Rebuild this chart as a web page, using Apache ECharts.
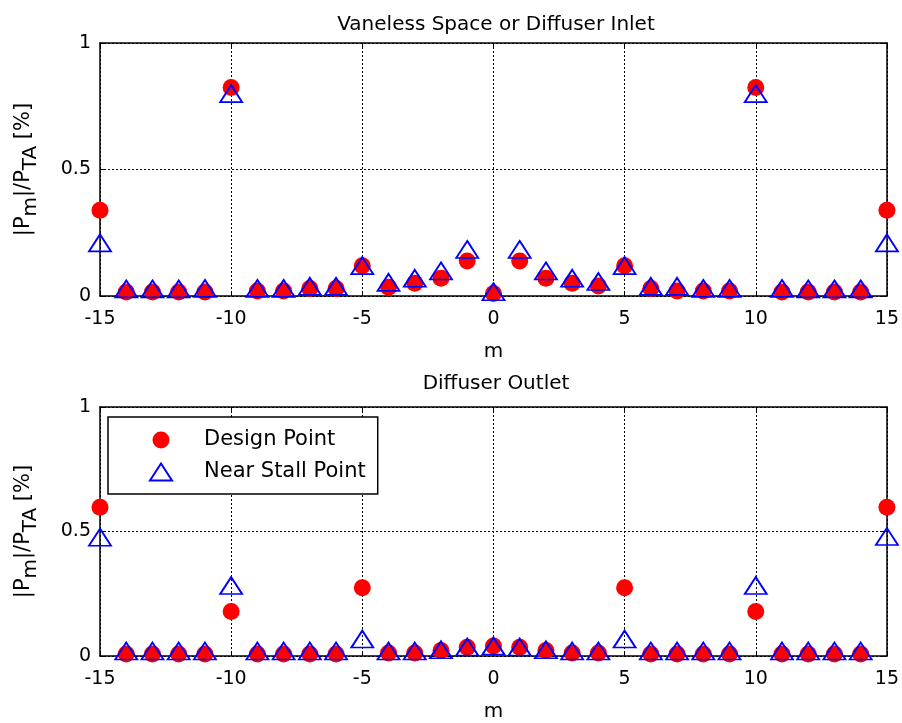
<!DOCTYPE html>
<html><head><meta charset="utf-8">
<script src="https://cdn.jsdelivr.net/npm/echarts@6/dist/echarts.min.js"></script>
<style>html,body{margin:0;padding:0;background:#fff}#c{width:902px;height:723px}</style>
</head><body><div id="c"></div>
<script>
const mValues = [-15,-14,-13,-12,-11,-10,-9,-8,-7,-6,-5,-4,-3,-2,-1,0,1,2,3,4,5,6,7,8,9,10,11,12,13,14,15];
const inletDesign = [0.339,0.016,0.016,0.016,0.016,0.824,0.02,0.02,0.03,0.03,0.12,0.035,0.05,0.07,0.138,0.01,0.138,0.07,0.05,0.04,0.12,0.03,0.02,0.02,0.02,0.824,0.016,0.016,0.016,0.016,0.339];
const inletStall = [0.21,0.028,0.028,0.028,0.03,0.80,0.03,0.03,0.038,0.038,0.12,0.054,0.07,0.099,0.184,0.017,0.184,0.099,0.07,0.057,0.12,0.038,0.038,0.03,0.03,0.80,0.03,0.028,0.028,0.028,0.21];
const outletDesign = [0.597,0.008,0.008,0.008,0.008,0.179,0.008,0.008,0.008,0.008,0.274,0.012,0.012,0.022,0.035,0.04,0.035,0.022,0.012,0.012,0.274,0.008,0.008,0.008,0.008,0.179,0.008,0.008,0.008,0.008,0.597];
const outletStall = [0.477,0.02,0.02,0.02,0.02,0.283,0.02,0.02,0.02,0.02,0.068,0.02,0.02,0.025,0.036,0.04,0.036,0.025,0.02,0.02,0.068,0.02,0.02,0.02,0.02,0.283,0.02,0.02,0.02,0.02,0.48];
const titles = ['Vaneless Space or Diffuser Inlet','Diffuser Outlet'];
const seriesNames = ['Design Point','Near Stall Point'];
const xTicks = {min:-15,max:15,interval:5};
const yTicks = {min:0,max:1,interval:0.5};

const FONT = '"DejaVu Sans", sans-serif';
const pair = (xs, ys) => xs.map((x,i)=>[x,ys[i]]);
const chart = echarts.init(document.getElementById('c'));
const grids = [{left:100,right:15,top:43,height:253},{left:100,right:15,top:407,height:254}];
const xAxes = [], yAxes = [];
grids.forEach((g,i)=>{
  xAxes.push({gridIndex:i,type:'value',min:xTicks.min,max:xTicks.max,interval:xTicks.interval,position:'bottom',
    name:'m',nameLocation:'middle',nameGap:46,nameTextStyle:{color:'#000',fontSize:20,fontFamily:FONT},
    axisLine:{onZero:false,lineStyle:{color:'#000',width:1.5}},
    axisTick:{inside:true,length:5,lineStyle:{color:'#000',width:1}},
    axisLabel:{color:'#000',fontSize:19,fontFamily:FONT,margin:14},
    splitLine:{show:true,lineStyle:{color:'#000',type:[2,2],width:1}}});
  xAxes.push({gridIndex:i,type:'value',min:xTicks.min,max:xTicks.max,interval:xTicks.interval,position:'top',
    axisLine:{onZero:false,lineStyle:{color:'#000',width:1.5}},
    axisTick:{inside:true,length:5,lineStyle:{color:'#000',width:1}},
    axisLabel:{show:false},splitLine:{show:false}});
  yAxes.push({gridIndex:i,type:'value',min:yTicks.min,max:yTicks.max,interval:yTicks.interval,position:'left',
    name:'{n||P}{s|m}{n||/P}{s|TA}{n| [%]}',nameLocation:'middle',nameGap:64,nameRotate:90,
    nameTextStyle:{color:'#000',fontSize:21,fontFamily:FONT,rich:{
      n:{fontSize:21,fontFamily:FONT,color:'#000',lineHeight:23,verticalAlign:'top'},
      s:{fontSize:20,fontFamily:FONT,color:'#000',lineHeight:22,verticalAlign:'top',padding:[8,0,0,0]}}},
    axisLine:{onZero:false,lineStyle:{color:'#000',width:1.5}},
    axisTick:{inside:true,length:5,lineStyle:{color:'#000',width:1}},
    axisLabel:{color:'#000',fontSize:19,fontFamily:FONT,margin:9},
    splitLine:{show:true,lineStyle:{color:'#000',type:[2,2],width:1}}});
  yAxes.push({gridIndex:i,type:'value',min:yTicks.min,max:yTicks.max,interval:yTicks.interval,position:'right',
    axisLine:{onZero:false,lineStyle:{color:'#000',width:1.5}},
    axisTick:{inside:true,length:5,lineStyle:{color:'#000',width:1}},
    axisLabel:{show:false},splitLine:{show:false}});
});
const circle = (name, data, gi) => ({name, type:'scatter', xAxisIndex:gi*2, yAxisIndex:gi*2, data, symbol:'circle', symbolSize:17,
  itemStyle:{color:'#ff0000',opacity:1}, z:3});
const tri = (name, data, gi) => ({name, type:'scatter', xAxisIndex:gi*2, yAxisIndex:gi*2, data, symbol:'triangle', symbolSize:[22,17],
  itemStyle:{color:'rgba(255,255,255,0)',borderColor:'#0000ff',borderWidth:1.8,opacity:1}, z:4});
chart.setOption({
  animation:false,
  backgroundColor:'#fff',
  title:[
    {text:titles[0],left:491,top:10,textAlign:'center',textStyle:{fontSize:20,fontWeight:'normal',color:'#000',fontFamily:FONT}},
    {text:titles[1],left:491,top:369,textAlign:'center',textStyle:{fontSize:20,fontWeight:'normal',color:'#000',fontFamily:FONT}}
  ],
  legend:{data:seriesNames,orient:'vertical',left:108,top:417,itemWidth:22,itemHeight:17,itemGap:10,
    padding:[12,12,11,41],borderColor:'#000',borderWidth:1.5,backgroundColor:'#fff',
    textStyle:{fontSize:21,color:'#000',fontFamily:FONT,lineHeight:22,padding:[0,0,0,27]}},
  grid:grids,
  xAxis:xAxes,
  yAxis:yAxes,
  series:[
    circle(seriesNames[0], pair(mValues,inletDesign), 0),
    tri(seriesNames[1], pair(mValues,inletStall), 0),
    circle(seriesNames[0], pair(mValues,outletDesign), 1),
    tri(seriesNames[1], pair(mValues,outletStall), 1)
  ]
});
</script></body></html>
